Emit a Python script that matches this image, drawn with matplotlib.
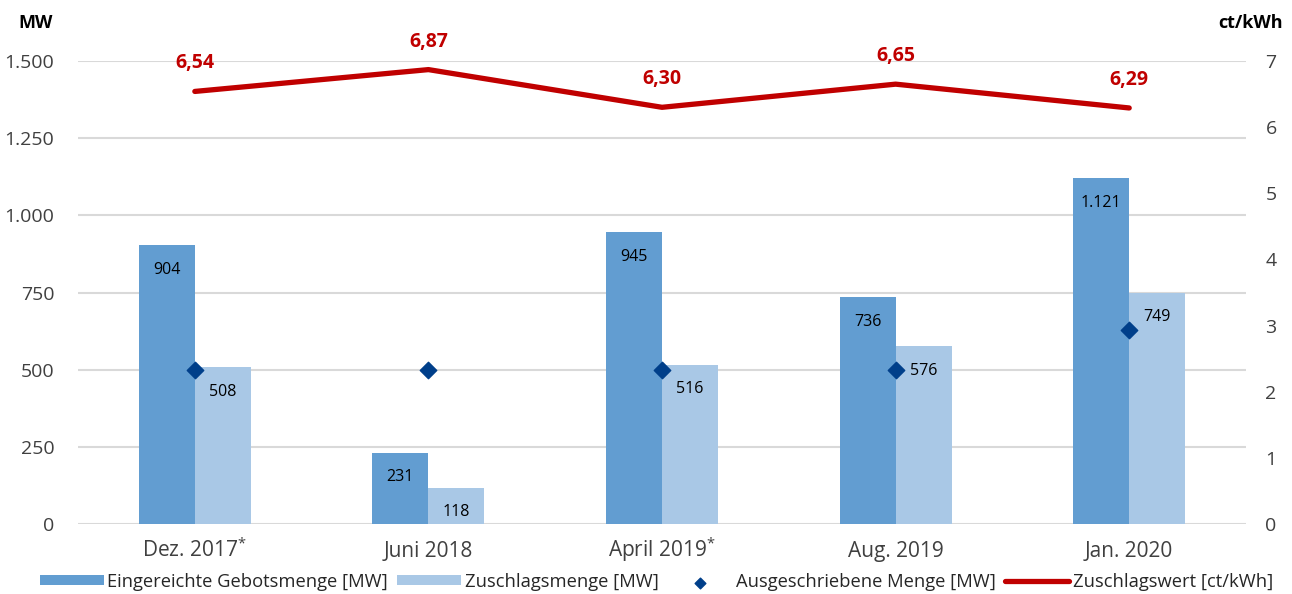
import matplotlib.pyplot as plt
import numpy as np

# Daten
kategorien = ["Dez. 2017$^{*}$", "Juni 2018", "April 2019$^{*}$", "Aug. 2019", "Jan. 2020"]
gebotsmenge = [904, 231, 945, 736, 1121]
zuschlagsmenge = [508, 118, 516, 576, 749]
ausgeschrieben = [500, 500, 500, 500, 630]
zuschlagswert = [6.54, 6.87, 6.30, 6.65, 6.29]

def fmt_de(v):
    return f"{v:,.0f}".replace(",", ".")

plt.rcParams['font.family'] = ['Open Sans', 'DejaVu Sans']
plt.rcParams['mathtext.default'] = 'regular'

fig = plt.figure(figsize=(12.92, 5.94), dpi=100)
ax = fig.add_axes([0.0604, 0.1178, 0.904, 0.7795])
ax2 = ax.twinx()

x = np.arange(len(kategorien))
w = 0.24
b1 = ax.bar(x - w / 2, gebotsmenge, width=w, color='#629DD1', zorder=2,
            label='Eingereichte Gebotsmenge [MW]')
b2 = ax.bar(x + w / 2, zuschlagsmenge, width=w, color='#A9C8E6', zorder=2,
            label='Zuschlagsmenge [MW]')
sc = ax.scatter(x, ausgeschrieben, marker='D', s=70, color='#003F8A', zorder=4,
                label='Ausgeschriebene Menge [MW]')

for xi, v in zip(x - w / 2, gebotsmenge):
    ax.annotate(fmt_de(v), (xi, v), xytext=(0, -12), textcoords='offset points',
                ha='center', va='top', fontsize=11.5, zorder=5)
for xi, v in zip(x + w / 2, zuschlagsmenge):
    ax.annotate(fmt_de(v), (xi, v), xytext=(0, -12), textcoords='offset points',
                ha='center', va='top', fontsize=11.5, zorder=5)

ln, = ax2.plot(x, zuschlagswert, color='#C00000', lw=3.8, solid_capstyle='round',
               label='Zuschlagswert [ct/kWh]', zorder=3)
for xi, v in zip(x, zuschlagswert):
    ax2.annotate(f"{v:.2f}".replace(".", ","), (xi, v), xytext=(0, 13),
                 textcoords='offset points', ha='center', va='bottom',
                 fontsize=14, fontweight='bold', color='#C00000',
                 annotation_clip=False)

ax.set_xlim(-0.5, 4.5)
ax.set_ylim(0, 1500)
ax2.set_ylim(0, 7)
ax.set_yticks(range(0, 1501, 250))
ax.set_yticklabels([fmt_de(v) for v in range(0, 1501, 250)])
ax2.set_yticks(range(0, 8))
ax.set_xticks(x)
ax.set_xticklabels(kategorien)

ax.grid(axis='y', color='#D9D9D9', lw=1.5, zorder=0)
ax.set_axisbelow(True)
for a in (ax, ax2):
    for s in a.spines.values():
        s.set_visible(False)
    a.tick_params(length=0, labelsize=14, colors='#404040')
ax.tick_params(axis='x', labelsize=15, pad=24)
for lbl in ax.get_xticklabels():
    lbl.set_verticalalignment('baseline')
ax.tick_params(axis='y', pad=17)
ax2.tick_params(axis='y', pad=14)

fig.text(0.014, 0.962, "MW", fontsize=13, fontweight='bold', va='center')
fig.text(0.993, 0.962, "ct/kWh", fontsize=13, fontweight='bold',
         va='center', ha='right')

fig.legend([b1, b2, sc, ln], [h.get_label() for h in (b1, b2, sc, ln)],
           loc='lower center', bbox_to_anchor=(0.508, -0.022), ncol=4, frameon=False,
           fontsize=13.2, handlelength=3.5, handleheight=0.5, columnspacing=0.5,
           handletextpad=0.2, markerscale=0.65, labelcolor='#262626')

fig.savefig("out.png", dpi=100)
